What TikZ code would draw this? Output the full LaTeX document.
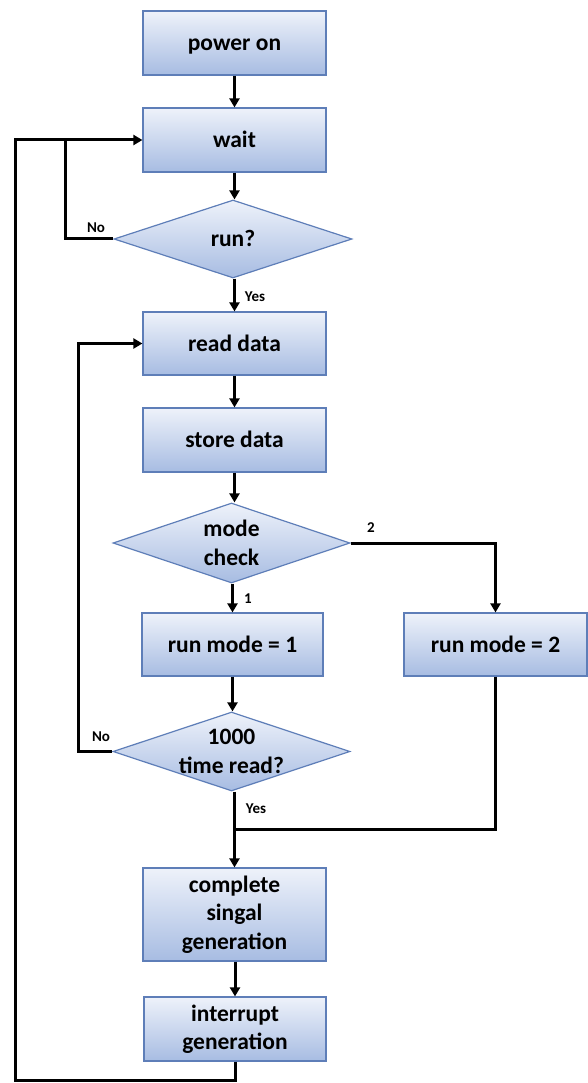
\documentclass[tikz,border=0pt]{standalone}
\usepackage{fontspec}
\setmainfont{Carlito}
\usetikzlibrary{shapes.geometric,arrows.meta}
\definecolor{boxtop}{HTML}{EEF2FA}
\definecolor{boxbot}{HTML}{A7BCE2}
\definecolor{boxedge}{HTML}{5E7EB8}
\begin{document}
\begin{tikzpicture}[x=1pt,y=-1pt,
  font=\bfseries\fontsize{23.5}{28.5}\selectfont,
  box/.style={draw=boxedge, line width=1.2pt, top color=boxtop, bottom color=boxbot,
    minimum width=183pt, minimum height=64pt, inner sep=0pt, align=center},
  oneline/.style={text height=15pt, text depth=0pt},
  dia/.style={diamond, draw=boxedge, line width=1.2pt, top color=boxtop, bottom color=boxbot,
    minimum width=238pt, minimum height=78pt, inner sep=0pt},
  txt/.style={align=center, inner sep=0pt},
  lbl/.style={font=\bfseries\fontsize{15}{17}\selectfont, inner sep=0pt},
  flow/.style={line width=3pt, -{Triangle[length=9pt,width=10pt]}},
  wire/.style={line width=3pt}
]
\useasboundingbox (0,0) rectangle (588,1083);

% process boxes
\node[box, oneline] (power) at (234.5,43) {power on};
\node[box, oneline] (wait) at (234.5,140) {wait};
\node[box, oneline, minimum height=63pt] (read) at (234.5,343.5) {read data};
\node[box, oneline] (store) at (234.5,440) {store data};
\node[box, oneline, minimum width=181pt, minimum height=63pt] (rm1) at (232.5,644.5) {run mode = 1};
\node[box, oneline, minimum height=63pt] (rm2) at (495.5,644.5) {run mode = 2};
\node[box, minimum height=93pt] (comp) at (234.5,914.5) {complete\\singal\\generation};
\node[box, minimum width=182pt] (intr) at (235,1029) {interrupt\\generation};

% decisions
\node[dia] (run) at (233,239) {};
\node[txt, oneline] at (run) {run?};
\node[dia, minimum width=237pt, minimum height=80pt] (mode) at (231.5,543) {};
\node[txt] at (mode) {mode\\check};
\node[dia, minimum width=237pt, minimum height=79pt] (thou) at (231.5,751.5) {};
\node[txt] at (thou) {1000\\time read?};

% junction points
\coordinate (j1) at (65,140);
\coordinate (join) at (234.5,829);
\coordinate (back) at (15,140);

% main flow
\draw[flow] (power.south) -- (wait.north);
\draw[flow] (wait.south) -- (wait.south |- run.north);
\draw[flow] (run.south -| read.north) -- (read.north);
\draw[flow] (read.south) -- (store.north);
\draw[flow] (store.south) -- (store.south |- mode.north);
\draw[flow] (mode.south -| rm1.north) -- (rm1.north);
\draw[flow] (mode.east) -| (rm2.north);
\draw[flow] (rm1.south) -- (rm1.south |- thou.north);
\draw[flow] (thou.south -| join) -- (comp.north);
\draw[wire] (rm2.south) |- (join);
\draw[flow] (comp.south -| intr.north) -- (intr.north);

% loops back
\draw[wire] (run.west) -| (j1);
\draw[flow] (thou.west) -| (78,343.5) -- (read.west);
\draw[flow] (intr.south) -- (235,1080) -| (back) -- (wait.west);

% branch labels
\node[lbl] at (96,228) {No};
\node[lbl] at (255,297) {Yes};
\node[lbl] at (371,528) {2};
\node[lbl] at (248,599) {1};
\node[lbl] at (101,737) {No};
\node[lbl] at (256,809) {Yes};
\end{tikzpicture}
\end{document}
